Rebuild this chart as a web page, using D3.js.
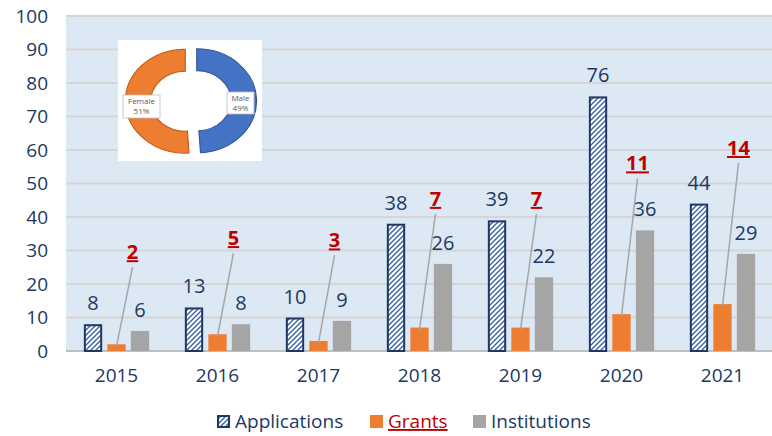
<!DOCTYPE html>
<html>
<head>
<meta charset="utf-8">
<script src="https://cdn.jsdelivr.net/npm/d3@7"></script>
<style>
  body { margin: 0; background: #fff; }
  svg { display: block; font-family: 'Open Sans', sans-serif; }
</style>
</head>
<body>
<svg class="container" width="772" height="436"></svg>
<script>
// Chart data
const years = ['2015', '2016', '2017', '2018', '2019', '2020', '2021'];
const series = ['Applications', 'Grants', 'Institutions'];
const applications = [8, 13, 10, 38, 39, 76, 44];
const grants = [2, 5, 3, 7, 7, 11, 14];
const institutions = [6, 8, 9, 26, 22, 36, 29];
// Where the grant callouts sit, in axis units
const grantLabelAt = [29.5, 33.7, 33, 45.4, 45.4, 56, 60.6];
const yTicks = [0, 10, 20, 30, 40, 50, 60, 70, 80, 90, 100];

// Inset donut
const genders = ['Male', 'Female'];
const genderShare = [49, 51];

const NAVY = '#203864';
const ORANGE = '#ED7D31';
const GRAY = '#A5A5A5';
const RED = '#C00000';

const PLOT = { LEFT: 66, RIGHT: 773, TOP: 16, BOTTOM: 351 };

const svg = d3.select('.container');

const xScale = d3.scaleBand()
  .domain(years)
  .range([PLOT.LEFT, PLOT.RIGHT]);
const xInner = d3.scaleBand()
  .domain(series)
  .range([0, xScale.bandwidth()])
  .paddingInner(0.22)
  .paddingOuter(0.76);
const yScale = d3.scaleLinear()
  .domain([0, 100])
  .range([PLOT.BOTTOM, PLOT.TOP]);

// Hatch pattern for applications
const defs = svg.append('defs');
defs.append('pattern')
  .attr('id', 'hatch')
  .attr('patternUnits', 'userSpaceOnUse')
  .attr('width', 5)
  .attr('height', 5)
  .call(p => p.append('rect').attr('width', 5).attr('height', 5).attr('fill', '#fff'))
  .append('path')
  .attr('d', 'M-1,1 l2,-2 M0,5 l5,-5 M4,6 l2,-2')
  .attr('stroke', '#3A62A8')
  .attr('stroke-width', 1.4);

// Plot background
svg.append('rect')
  .attr('x', PLOT.LEFT)
  .attr('y', PLOT.TOP)
  .attr('width', PLOT.RIGHT - PLOT.LEFT)
  .attr('height', PLOT.BOTTOM - PLOT.TOP)
  .attr('fill', '#DDE8F5');

// Gridlines
svg.append('g')
  .selectAll('line')
  .data(yTicks.filter(t => t > 0))
  .join('line')
  .attr('x1', PLOT.LEFT)
  .attr('x2', PLOT.RIGHT)
  .attr('y1', d => yScale(d))
  .attr('y2', d => yScale(d))
  .attr('stroke', '#D5D5D5')
  .attr('stroke-width', 2);

// Y axis
const leftAxis = d3.axisLeft(yScale).tickValues(yTicks).tickSize(0).tickPadding(0);
svg.append('g')
  .attr('class', 'y-axis')
  .attr('transform', 'translate(48,0)')
  .call(leftAxis)
  .call(g => g.select('.domain').remove())
  .selectAll('text')
  .attr('fill', NAVY)
  .attr('font-size', 19)
  .attr('font-family', 'Open Sans');

// X axis
const bottomAxis = d3.axisBottom(xScale).tickSize(0).tickPadding(0);
svg.append('g')
  .attr('class', 'x-axis')
  .attr('transform', `translate(0,${PLOT.BOTTOM + 17})`)
  .call(bottomAxis)
  .call(g => g.select('.domain').remove())
  .selectAll('text')
  .attr('fill', NAVY)
  .attr('font-size', 19)
  .attr('font-family', 'Open Sans');

svg.append('line')
  .attr('x1', PLOT.LEFT)
  .attr('x2', PLOT.RIGHT)
  .attr('y1', PLOT.BOTTOM)
  .attr('y2', PLOT.BOTTOM)
  .attr('stroke', '#BFBFBF')
  .attr('stroke-width', 2);

const rows = years.map((year, i) => ({
  year,
  Applications: applications[i],
  Grants: grants[i],
  Institutions: institutions[i],
  labelAt: grantLabelAt[i],
}));

const groups = svg.append('g')
  .selectAll('g')
  .data(rows)
  .join('g')
  .attr('transform', d => `translate(${xScale(d.year)},0)`);

// Applications bars
groups.append('rect')
  .attr('x', xInner('Applications') + 1)
  .attr('y', d => yScale(d.Applications) + 1)
  .attr('width', xInner.bandwidth() - 2)
  .attr('height', d => yScale(0) - yScale(d.Applications) - 1)
  .attr('fill', 'url(#hatch)')
  .attr('stroke', NAVY)
  .attr('stroke-width', 2);

groups.append('rect')
  .attr('x', xInner('Grants'))
  .attr('y', d => yScale(d.Grants))
  .attr('width', xInner.bandwidth())
  .attr('height', d => yScale(0) - yScale(d.Grants))
  .attr('fill', ORANGE);

groups.append('rect')
  .attr('x', xInner('Institutions'))
  .attr('y', d => yScale(d.Institutions))
  .attr('width', xInner.bandwidth())
  .attr('height', d => yScale(0) - yScale(d.Institutions))
  .attr('fill', GRAY);

// Value labels
const valueLabel = (key) => groups.append('text')
  .attr('x', xInner(key) + xInner.bandwidth() / 2)
  .attr('y', d => yScale(d[key]) - 14)
  .attr('text-anchor', 'middle')
  .attr('font-size', 20)
  .attr('fill', NAVY)
  .text(d => d[key]);
valueLabel('Applications');
valueLabel('Institutions');

// Grant callouts with leader lines
const grantX = xInner('Grants') + xInner.bandwidth() / 2;
groups.append('line')
  .attr('x1', grantX + 16)
  .attr('y1', d => yScale(d.labelAt) + 15)
  .attr('x2', grantX)
  .attr('y2', d => yScale(d.Grants) + 2)
  .attr('stroke', '#A6A6A6')
  .attr('stroke-width', 1.5);
groups.append('text')
  .attr('x', grantX + 16)
  .attr('y', d => yScale(d.labelAt) + 7)
  .attr('text-anchor', 'middle')
  .attr('font-size', 20)
  .attr('font-weight', 'bold')
  .attr('fill', RED)
  .style('text-decoration', 'underline')
  .text(d => d.Grants);

// Inset donut
const inset = svg.append('g');
inset.append('rect')
  .attr('x', 118)
  .attr('y', 40)
  .attr('width', 144)
  .attr('height', 121)
  .attr('fill', '#fff');

const pie = d3.pie().sort(null)(genderShare);
const arc = d3.arc().innerRadius(30).outerRadius(52);
const donut = inset.append('g')
  .attr('transform', 'translate(191,101) scale(1.15,1)');
donut.selectAll('path')
  .data(pie)
  .join('path')
  .attr('d', arc)
  .attr('transform', (d) => {
    const mid = (d.startAngle + d.endAngle) / 2;
    return `translate(${Math.sin(mid) * 5},${-Math.cos(mid) * 5})`;
  })
  .attr('fill', (d, i) => (i === 0 ? '#4472C4' : ORANGE))
  .attr('stroke', (d, i) => (i === 0 ? '#2F5597' : '#C55A11'))
  .attr('stroke-width', 1);

const insetLabels = [
  { name: genders[1], share: genderShare[1], x: 123, y: 95, w: 37, h: 23 },
  { name: genders[0], share: genderShare[0], x: 227, y: 92, w: 27, h: 22 },
];
const lab = inset.selectAll('g.lab')
  .data(insetLabels)
  .join('g')
  .attr('class', 'lab');
lab.append('rect')
  .attr('x', d => d.x)
  .attr('y', d => d.y)
  .attr('width', d => d.w)
  .attr('height', d => d.h)
  .attr('fill', '#fff')
  .attr('stroke', '#BFBFBF')
  .attr('stroke-width', 0.8);
lab.append('text')
  .attr('x', d => d.x + d.w / 2)
  .attr('y', d => d.y + 9)
  .attr('text-anchor', 'middle')
  .attr('font-size', 8)
  .attr('fill', '#595959')
  .text(d => d.name);
lab.append('text')
  .attr('x', d => d.x + d.w / 2)
  .attr('y', d => d.y + 19)
  .attr('text-anchor', 'middle')
  .attr('font-size', 8)
  .attr('fill', '#595959')
  .text(d => `${d.share}%`);

// Legend
const legendItems = [
  { name: series[0], x: 217 },
  { name: series[1], x: 370 },
  { name: series[2], x: 473 },
];
const legend = svg.append('g')
  .selectAll('g')
  .data(legendItems)
  .join('g')
  .attr('transform', d => `translate(${d.x},415)`);
legend.append('rect')
  .attr('x', d => (d.name === 'Applications' ? 1 : 0))
  .attr('y', d => (d.name === 'Applications' ? 1 : 0))
  .attr('width', d => (d.name === 'Applications' ? 11 : 13))
  .attr('height', d => (d.name === 'Applications' ? 11 : 13))
  .attr('fill', d => (d.name === 'Applications' ? 'url(#hatch)' : d.name === 'Grants' ? ORANGE : GRAY))
  .attr('stroke', d => (d.name === 'Applications' ? NAVY : 'none'))
  .attr('stroke-width', 2);
legend.append('text')
  .attr('x', 18)
  .attr('y', 13)
  .attr('font-size', 19)
  .attr('fill', d => (d.name === 'Grants' ? RED : NAVY))
  .style('text-decoration', d => (d.name === 'Grants' ? 'underline' : 'none'))
  .text(d => d.name);
</script>
</body>
</html>
